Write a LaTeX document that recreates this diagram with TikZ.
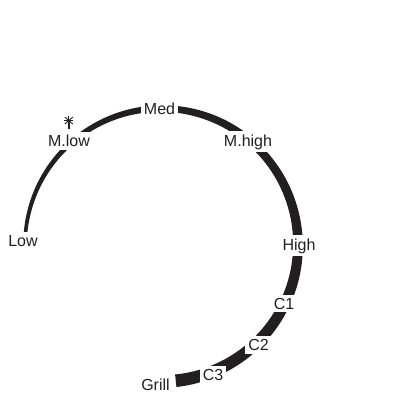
\documentclass[tikz,border=0pt]{standalone}
\usepackage{fontspec}
\setmainfont{Liberation Sans}
\usetikzlibrary{positioning}
\definecolor{dialink}{RGB}{35,31,32}
\tikzset{
  dial label/.style={
    fill=white, inner sep=3pt, anchor=base,
    text=dialink,
    font=\fontsize{16}{18}\selectfont
  },
  dial mark/.style={
    draw=dialink, line width=0.9pt
  },
  declare function={hw(\t)=1.7+4.6*(180-\t)/264;},
}

\begin{document}
\begin{tikzpicture}[x=1pt, y=-1pt]

  \useasboundingbox (0,0) rectangle (397,394);

  % Tapered dial arc, thin at Low and thick at Grill
  \fill[dialink]
    plot[domain=180:-84, samples=140]
      ({161.5+(136.5+hw(\x))*cos(\x)}, {245-(136.5+hw(\x))*sin(\x)})
    -- plot[domain=-84:180, samples=140]
      ({161.5+(136.5-hw(\x))*cos(\x)}, {245-(136.5-hw(\x))*sin(\x)})
    -- cycle;

  % Settings on the dial
  \node[dial label] (low)    at (23, 246.5)  {Low};
  \node[dial label] (mlow)   at (69, 146.5)  {M.low};
  \node[dial label] (med)    at (159.5, 114) {Med};
  \node[dial label] (mhigh)  at (248, 146)   {M.high};
  \node[dial label] (high)   at (299, 250)   {High};
  \node[dial label] (cone)   at (284, 309)   {C1};
  \node[dial label] (ctwo)   at (258.5, 350.5) {C2};
  \node[dial label] (cthree) at (213, 380.5) {C3};
  \node[dial label] (grill)  at (155.5, 390) {Grill};

  % Marker above M.low
  \coordinate (star) at (68.8, 120.5);
  \draw[dial mark] (star) ++(-4,-3.5) -- ++(8,7);
  \draw[dial mark] (star) ++(4,-3.5) -- ++(-8,7);
  \draw[dial mark] (star) ++(-4.5,0) -- ++(9,0);
  \draw[dial mark] (star) ++(0,-4.5) -- ++(0,4.5);
  \draw[dialink, line width=1.6pt] (star) -- ++(0,8);

\end{tikzpicture}
\end{document}
